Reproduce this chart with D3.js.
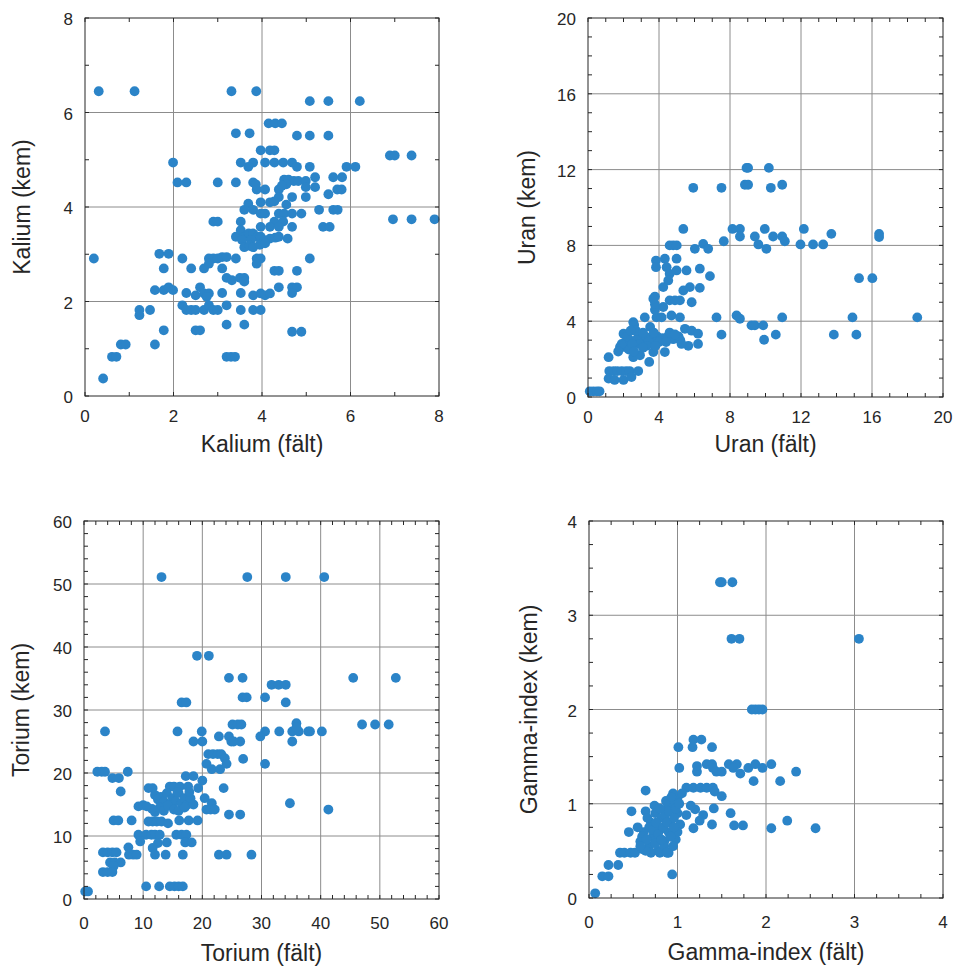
<!DOCTYPE html>
<html><head><meta charset="utf-8">
<script src="https://cdn.jsdelivr.net/npm/d3@7"></script>
<style>body{margin:0;background:#fff}svg{display:block}</style>
</head><body>
<svg id="c" width="955" height="972"></svg>
<script>
// ---- Data ----
const kaliumTicks = [0,2,4,6,8];
const uranTicks = [0,4,8,12,16,20];
const toriumTicks = [0,10,20,30,40,50,60];
const gammaTicks = [0,1,2,3,4];

const kaliumPoints = [
[0.31,6.45],[1.12,6.45],[3.31,6.45],[3.87,6.45],
[5.08,6.24],[5.50,6.24],[6.21,6.24],
[4.15,5.77],[4.30,5.77],[4.45,5.77],
[3.41,5.56],[3.72,5.56],
[4.79,5.51],[5.08,5.51],[5.50,5.51],
[3.97,5.20],[4.18,5.20],[4.28,5.20],
[6.89,5.09],[7.00,5.09],[7.38,5.09],
[1.99,4.94],
[3.52,4.94],[3.80,4.94],[4.07,4.94],[4.28,4.94],[4.48,4.94],[4.68,4.94],
[3.69,4.85],[4.79,4.85],[5.08,4.85],[5.91,4.85],[6.11,4.85],
[2.09,4.52],[2.29,4.52],[3.00,4.52],[3.41,4.52],[3.80,4.52],[3.86,4.48],
[5.20,4.63],[5.61,4.63],[5.81,4.63],
[4.50,4.58],[4.60,4.58],[4.72,4.55],[4.82,4.55],[4.55,4.48],
[4.99,4.55],[4.99,4.42],[5.20,4.42],
[3.88,4.37],[4.07,4.37],[4.38,4.37],[4.45,4.45],
[5.50,4.27],[5.70,4.37],[5.80,4.37],
[4.68,4.21],[4.99,4.21],
[3.69,4.07],[3.97,4.10],[4.18,4.10],[4.28,4.12],[4.38,4.21],[4.55,4.05],
[3.60,3.94],[3.80,3.94],
[3.97,3.86],[4.07,3.86],[4.38,3.86],[4.50,3.86],[4.68,3.86],[4.89,3.86],
[5.29,3.94],[5.61,3.94],[5.71,3.94],
[6.96,3.74],[7.38,3.74],[7.90,3.74],
[2.90,3.69],[3.00,3.69],[3.52,3.69],[4.28,3.69],[4.48,3.69],
[3.97,3.58],[4.18,3.58],[4.38,3.58],[4.68,3.58],[5.38,3.58],[5.53,3.58],
[3.41,3.37],[3.52,3.51],[3.60,3.37],[3.70,3.44],[3.80,3.44],[3.90,3.37],[3.97,3.37],[4.05,3.30],[3.75,3.30],[3.55,3.30],
[4.18,3.33],[4.30,3.35],[4.38,3.37],[4.58,3.33],
[3.60,3.15],[3.72,3.18],[3.80,3.15],[3.95,3.20],[4.07,3.23],
[0.20,2.91],[1.68,3.01],[1.89,3.01],[2.20,2.91],
[2.80,2.91],[2.90,2.91],[3.00,2.91],[3.10,2.94],[3.20,2.94],[3.41,2.91],
[3.88,2.91],[3.97,2.91],[5.08,2.91],
[1.78,2.70],[2.40,2.70],[2.69,2.70],[2.80,2.80],[3.10,2.70],[3.88,2.80],
[4.28,2.65],[4.38,2.65],[4.79,2.65],
[3.20,2.50],[3.32,2.45],[3.50,2.50],[3.60,2.50],[3.60,2.42],
[1.58,2.24],[1.78,2.24],[1.89,2.30],[1.99,2.24],
[2.29,2.18],[2.50,2.13],[2.60,2.30],[2.69,2.17],[2.80,2.17],[2.75,2.10],
[3.10,2.18],[3.52,2.18],[3.80,2.13],[3.97,2.17],[4.07,2.13],[4.18,2.17],
[4.38,2.30],[4.68,2.30],[4.79,2.30],[4.68,2.18],
[2.20,1.92],[2.29,1.82],[2.40,1.82],[2.50,1.82],[2.69,1.82],[2.80,1.92],[2.90,1.82],[3.00,1.82],
[3.20,1.92],[3.52,1.82],[3.80,1.82],[3.97,1.82],
[1.23,1.82],[1.23,1.71],[1.47,1.82],
[1.78,1.39],[2.50,1.39],[2.60,1.39],
[3.20,1.51],[3.60,1.51],[4.68,1.36],[4.89,1.36],
[0.81,1.09],[0.92,1.09],[1.58,1.09],
[0.61,0.83],[0.71,0.83],
[3.20,0.83],[3.30,0.83],[3.39,0.83],
[0.41,0.37]
];

const uranPoints = [
[0.10,0.30],[0.30,0.30],[0.50,0.30],[0.65,0.30],
[1.16,2.10],
[1.20,1.37],[1.45,1.37],[1.65,1.37],[1.90,1.37],[2.15,1.37],[2.35,1.37],
[1.16,0.97],[1.50,0.90],[2.00,0.90],[2.45,1.05],
[2.83,1.37],[3.45,1.85],
[2.55,2.10],[2.93,2.20],
[1.80,2.64],[2.00,2.64],[2.20,2.64],[2.40,2.64],[2.10,2.90],[2.30,2.50],[1.90,2.80],
[2.00,3.34],[2.36,3.00],
[2.55,3.95],[2.60,3.80],[3.20,4.20],
[2.83,3.34],[3.50,3.70],
[3.68,2.37],[4.33,2.37],
[3.00,3.10],[3.30,3.15],[3.60,3.00],[3.90,3.20],[4.20,3.10],[4.50,3.20],[4.80,3.05],[5.10,3.20],[5.20,3.00],[3.40,2.90],[2.70,3.00],[2.90,2.80],
[2.20,3.20],[2.50,2.80],[2.70,3.50],[3.10,3.40],[3.30,2.70],[3.70,3.40],[4.00,2.90],[4.40,2.90],[4.60,3.40],[4.90,3.30],[2.40,3.50],[3.10,2.60],[1.70,2.40],[2.60,2.40],[3.80,2.70],
[3.86,4.20],[4.15,4.20],[4.70,4.30],[5.18,4.20],
[3.77,4.60],[3.77,4.90],[3.77,5.30],[3.83,7.20],[3.83,6.85],
[4.33,7.30],[4.99,7.30],
[4.43,6.85],[4.60,6.50],
[4.60,8.00],[4.80,8.00],[5.00,8.00],
[5.37,8.87],
[4.99,6.68],[5.55,6.68],
[4.24,5.80],[4.52,6.15],
[5.37,5.62],[5.74,5.80],
[4.60,5.10],[5.18,5.10],[5.84,5.00],[4.90,5.10],
[4.24,4.75],[3.68,5.18],
[5.46,3.60],[5.84,3.50],
[6.20,3.34],[6.20,2.80],[5.65,2.70],[5.27,2.80],
[6.02,7.82],[6.49,8.08],[6.77,7.82],
[6.30,6.77],[6.87,6.38],[6.30,5.76],
[5.93,11.04],[7.52,11.04],
[7.24,4.20],[7.52,3.29],[7.65,8.22],
[8.14,8.87],[8.56,8.87],[8.56,8.47],
[8.37,4.30],[8.56,4.13],
[8.84,11.20],[9.02,11.20],[8.93,12.09],[9.02,12.09],[10.19,12.09],
[10.30,11.04],[10.94,11.20],
[9.40,8.47],[9.60,8.05],[9.96,8.87],[10.05,7.82],
[10.43,8.47],[10.94,8.47],[11.09,8.22],
[9.21,3.78],[9.40,3.78],[9.87,3.78],[9.92,3.02],
[10.58,3.29],[10.94,4.20],
[11.97,8.05],[12.16,8.87],[12.68,8.05],[13.25,8.05],[13.71,8.61],
[13.85,3.29],[14.90,4.20],[15.12,3.29],
[15.27,6.27],[16.02,6.27],[16.40,8.61],[16.40,8.44],
[18.55,4.20]
];

const toriumPoints = [
[0.2,1.2],[0.68,1.2],
[13.1,51.1],[27.6,51.1],[34.1,51.1],[40.6,51.1],
[19.1,38.6],[21.1,38.6],
[24.5,35.1],[26.8,35.1],[45.5,35.1],[52.7,35.1],
[31.7,34.0],[32.9,34.0],[34.1,34.0],
[26.8,32.0],[27.5,32.0],[30.6,32.0],
[16.5,31.2],[17.3,31.2],[34.1,31.2],
[25.1,27.7],[26.0,27.7],[26.6,27.7],[35.9,27.9],
[47.0,27.7],[49.2,27.7],[51.5,27.7],
[3.55,26.6],[15.8,26.6],[19.9,26.6],[30.6,26.6],[33.0,26.6],
[35.2,26.6],[36.3,26.6],[37.9,26.6],[38.2,26.6],[40.2,26.6],[35.9,27.2],
[18.5,25.0],[20.0,25.0],
[22.8,25.8],[24.5,25.8],[24.9,25.0],[26.4,25.0],[25.3,25.0],
[29.8,25.8],[35.2,25.0],
[21.0,23.0],[21.8,23.0],[22.6,23.0],[23.2,23.0],
[23.8,22.35],[20.7,21.45],[21.6,20.6],[23.0,20.6],[24.1,21.45],
[26.9,22.24],[30.6,21.45],
[2.25,20.2],[3.0,20.2],[3.55,20.2],[7.4,20.2],
[4.8,19.2],[5.9,19.2],
[6.2,17.06],
[17.2,19.5],[18.5,19.5],[20.0,18.8],
[10.9,17.6],[11.6,17.6],
[14.5,17.85],[15.2,17.85],[16.2,17.85],[17.6,17.85],[19.3,17.6],[23.6,17.6],
[12.0,16.5],[12.5,15.8],[13.0,16.2],[13.5,15.5],[14.0,16.8],[14.5,15.0],[15.0,16.0],[15.5,15.5],[16.0,16.8],[16.5,15.2],[17.0,16.0],[17.5,15.0],[18.0,16.0],[18.5,15.0],[12.8,14.5],[13.5,14.0],[14.2,14.8],[15.2,14.2],[16.0,14.0],[17.0,14.5],[12.0,13.8],[11.5,14.3],[15.8,17.0],[17.8,17.0],
[9.2,14.7],[10.0,14.9],[10.6,14.7],
[20.4,16.0],[21.6,15.2],
[20.7,14.2],[21.4,14.2],[22.1,14.2],
[24.5,13.4],[26.4,13.4],
[34.8,15.2],[41.3,14.2],
[5.0,12.47],[5.8,12.47],[8.05,12.47],
[10.9,12.3],[11.6,12.3],[12.3,12.3],[13.1,12.3],[14.2,12.0],[16.1,12.47],[17.7,12.47],[19.2,12.47],
[9.2,10.2],[10.5,10.2],[9.5,9.14],
[11.4,10.2],[12.0,10.2],[12.8,10.2],[12.5,8.87],
[14.0,8.98],
[15.6,10.2],[16.5,10.2],[17.3,10.2],[17.1,8.98],[18.2,8.98],
[7.5,8.2],
[3.2,7.4],[4.0,7.4],[4.8,7.4],[5.5,7.4],
[7.6,7.03],[8.3,7.03],[8.9,7.03],
[11.6,8.1],[12.0,7.03],[13.8,7.03],[16.7,7.03],
[22.8,7.03],[24.1,7.03],[28.3,7.03],
[4.4,5.8],[5.2,5.8],[6.2,5.8],[5.0,5.2],
[3.2,4.28],[4.0,4.28],[4.8,4.28],
[10.5,2.0],[12.7,2.0],[14.5,2.0],[15.3,2.0],[16.0,2.0],[16.7,2.0]
];

const gammaPoints = [
[0.07,0.05],
[1.48,3.35],[1.50,3.35],[1.62,3.35],
[1.61,2.75],[1.70,2.75],[3.05,2.75],
[1.84,2.0],[1.88,2.0],[1.92,2.0],[1.96,2.0],
[1.18,1.68],[1.27,1.68],[1.17,1.60],
[1.01,1.60],[1.39,1.60],
[1.02,1.38],[1.22,1.34],[1.22,1.40],[1.33,1.42],[1.39,1.42],[1.44,1.34],[1.50,1.34],[1.40,1.38],
[1.58,1.42],[1.67,1.42],[1.71,1.32],[1.63,1.38],
[1.80,1.38],[1.88,1.42],[1.96,1.38],[2.06,1.42],
[2.34,1.34],
[1.86,1.24],[2.16,1.24],
[0.64,1.14],
[0.95,1.11],[1.10,1.17],[1.18,1.17],[1.26,1.17],[1.00,1.06],[1.05,1.11],
[1.33,1.17],[1.40,1.17],[1.42,1.13],[1.50,1.08],
[1.41,0.95],[1.60,0.90],
[0.48,0.92],[0.64,0.92],
[1.64,0.77],[1.74,0.77],
[2.06,0.74],[2.24,0.82],[2.56,0.74],
[0.45,0.70],
[0.35,0.48],[0.40,0.48],[0.47,0.48],[0.52,0.48],
[0.22,0.35],[0.33,0.35],
[0.15,0.23],[0.22,0.23],
[0.94,0.25],
[0.90,0.48],
[0.58,0.60],[0.62,0.70],[0.68,0.55],[0.70,0.80],[0.72,0.65],[0.75,0.90],[0.78,0.50],[0.80,0.72],[0.82,0.85],[0.85,0.60],[0.88,0.95],[0.90,0.70],[0.92,0.80],[0.95,1.00],[0.98,0.62],[1.00,0.90],[1.03,0.78],[0.66,0.85],[0.60,0.52],[0.70,0.48],[0.80,0.48],[0.85,0.55],[0.75,0.58],[0.95,0.55],[1.00,0.70],[0.55,0.75],[0.87,1.03],[0.93,1.07],
[0.60,0.65],[0.65,0.62],[0.68,0.75],[0.72,0.72],[0.76,0.80],[0.78,0.68],[0.82,0.62],[0.84,0.75],[0.86,0.88],[0.88,0.80],[0.90,0.92],[0.92,0.65],[0.96,0.85],[0.98,0.95],[1.02,1.00],[0.74,0.98],[0.80,0.95],[0.64,0.50],[0.88,0.48],[0.96,0.75],[0.58,0.55],
[1.18,0.74],[1.20,0.94],[1.29,0.88],[1.39,0.78],[1.10,0.88],[1.15,0.98],[1.25,0.82]
];

const panels = [
  {pts: kaliumPoints, ticks: kaliumTicks, minor: 1, xLabel: "Kalium (fält)", yLabel: "Kalium (kem)", box:[85,439,18,396], tx:26, ttl:56, yt:55},
  {pts: uranPoints, ticks: uranTicks, minor: 1, xLabel: "Uran (fält)", yLabel: "Uran (kem)", box:[588,943,18,397], tx:26, ttl:55, yt:53},
  {pts: toriumPoints, ticks: toriumTicks, minor: 2, xLabel: "Torium (fält)", yLabel: "Torium (kem)", box:[84,439,521,899], tx:30, ttl:62, yt:55},
  {pts: gammaPoints, ticks: gammaTicks, minor: 0.25, xLabel: "Gamma-index (fält)", yLabel: "Gamma-index (kem)", box:[589,943,521,898], tx:30, ttl:62, yt:52}
];

const svg = d3.select("#c");
const font = "'Liberation Sans', Arial, Helvetica, sans-serif";
const textColor = "#262626";
const dotColor = "#2b84c8";

panels.forEach(p => {
  const [x0,x1,y0,y1] = p.box;
  const dom = [p.ticks[0], p.ticks[p.ticks.length-1]];
  const x = d3.scaleLinear().domain(dom).range([x0,x1]);
  const y = d3.scaleLinear().domain(dom).range([y1,y0]);
  const g = svg.append("g");
  const inner = p.ticks.slice(1,-1);
  // grid
  g.selectAll(".gx").data(inner).join("line")
    .attr("x1", d=>x(d)).attr("x2", d=>x(d)).attr("y1", y0).attr("y2", y1)
    .attr("stroke", "#8c8c8c").attr("stroke-width", 1);
  g.selectAll(".gy").data(inner).join("line")
    .attr("y1", d=>y(d)).attr("y2", d=>y(d)).attr("x1", x0).attr("x2", x1)
    .attr("stroke", "#8c8c8c").attr("stroke-width", 1);
  // points
  g.append("g").selectAll("circle").data(p.pts).join("circle")
    .attr("cx", d=>x(d[0])).attr("cy", d=>y(d[1])).attr("r", 4.9)
    .attr("fill", dotColor);
  // minor/major ticks inward on all sides
  const nMinor = Math.round((dom[1]-dom[0])/p.minor);
  const minorVals = d3.range(nMinor+1).map(i => dom[0] + i*p.minor);
  const tl = 4;
  const tk = g.append("g").attr("stroke", textColor).attr("stroke-width", 1);
  minorVals.forEach(v => {
    tk.append("line").attr("x1", x(v)).attr("x2", x(v)).attr("y1", y1).attr("y2", y1-tl);
    tk.append("line").attr("x1", x(v)).attr("x2", x(v)).attr("y1", y0).attr("y2", y0+tl);
    tk.append("line").attr("y1", y(v)).attr("y2", y(v)).attr("x1", x0).attr("x2", x0+tl);
    tk.append("line").attr("y1", y(v)).attr("y2", y(v)).attr("x1", x1).attr("x2", x1-tl);
  });
  // frame
  g.append("rect").attr("x", x0).attr("y", y0).attr("width", x1-x0).attr("height", y1-y0)
    .attr("fill", "none").attr("stroke", textColor).attr("stroke-width", 1);
  // tick labels
  g.selectAll(".xl").data(p.ticks).join("text")
    .attr("x", d=>x(d)).attr("y", y1+p.tx).attr("text-anchor", "middle")
    .attr("font-family", font).attr("font-size", 17).attr("fill", textColor).text(d=>d);
  g.selectAll(".yl").data(p.ticks).join("text")
    .attr("x", x0-12).attr("y", d=>y(d)+7).attr("text-anchor", "end")
    .attr("font-family", font).attr("font-size", 17).attr("fill", textColor).text(d=>d);
  // axis titles
  g.append("text").attr("x", (x0+x1)/2).attr("y", y1+p.ttl).attr("text-anchor", "middle")
    .attr("font-family", font).attr("font-size", 23).attr("fill", textColor).text(p.xLabel);
  g.append("text").attr("transform", `translate(${x0-p.yt},${(y0+y1)/2}) rotate(-90)`)
    .attr("text-anchor", "middle")
    .attr("font-family", font).attr("font-size", 23).attr("fill", textColor).text(p.yLabel);
});
</script>
</body></html>
